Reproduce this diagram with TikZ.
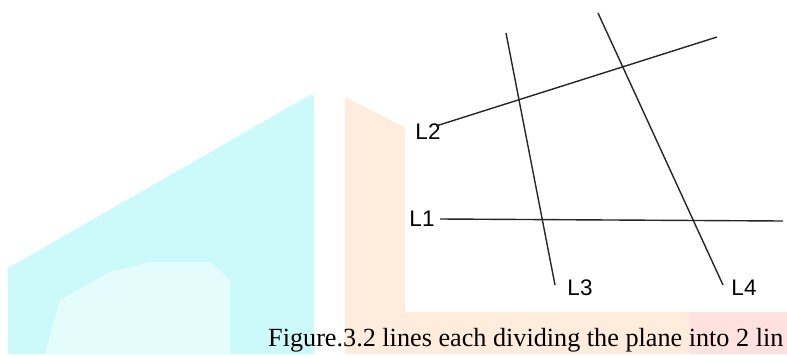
\documentclass[tikz,border=0pt]{standalone}
\usepackage{fontspec}
\setmainfont{Liberation Serif}
\newfontfamily\labelfont{Liberation Sans}
\definecolor{wmcyan}{RGB}{204,250,250}
\definecolor{wmcyanlight}{RGB}{228,252,252}
\definecolor{wmorange}{RGB}{255,236,220}
\definecolor{wmpink}{RGB}{255,226,224}
\begin{document}
\begin{tikzpicture}[x=1pt,y=-1pt,
  lbl/.style={font=\labelfont\fontsize{22.5}{22.5}\selectfont, inner sep=0pt},
  ln/.style={line width=1.4pt, black!85},
  captext/.style={font=\fontsize{26.2}{28}\selectfont, inner sep=0pt, anchor=base west}]
\useasboundingbox (0,0) rectangle (787,354);
% watermark background
\fill[wmorange] (345,97) -- (406,128) -- (787,128) -- (787,354) -- (345,354) -- cycle;
\fill[wmpink] (690,312) rectangle (787,354);
\fill[wmcyan] (8,354) -- (8,268) -- (310,95) -- (314,95) -- (314,354) -- cycle;
\fill[wmcyanlight] (45,354) -- (60,300) -- (110,272) -- (150,262) -- (210,262) -- (230,280) -- (230,354) -- cycle;
\fill[white] (405,0) rectangle (787,312);
% caption
\node[captext] (caption) at (268,346) {Figure.3.2 lines each dividing the plane into 2 lin};
% labels
\node[lbl] (l2) at (428,132) {L2};
\node[lbl] (l1) at (422,219) {L1};
\node[lbl] (l3) at (580,288) {L3};
\node[lbl] (l4) at (744,288) {L4};
% line end points
\coordinate (l2a) at (436,126);
\coordinate (l2b) at (717,37);
\coordinate (l1a) at (440,219);
\coordinate (l1b) at (783,221);
\coordinate (l3a) at (506,33);
\coordinate (l3b) at (555,285);
\coordinate (l4a) at (598,13);
\coordinate (l4b) at (723,285);
\draw[ln] (l2a) -- (l2b);
\draw[ln] (l1a) -- (l1b);
\draw[ln] (l3a) -- (l3b);
\draw[ln] (l4a) -- (l4b);
\end{tikzpicture}
\end{document}
